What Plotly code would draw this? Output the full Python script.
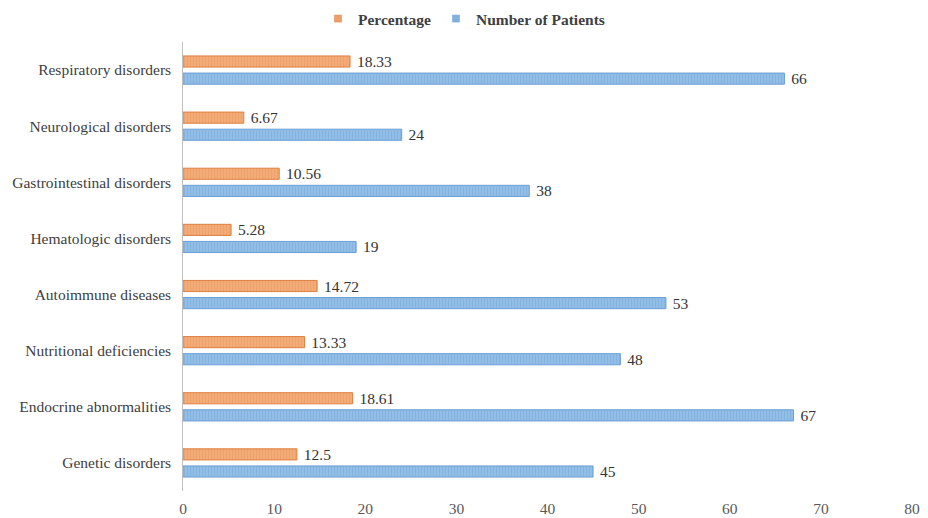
import plotly.graph_objects as go

categories = ["Genetic disorders", "Endocrine abnormalities", "Nutritional deficiencies",
              "Autoimmune diseases", "Hematologic disorders", "Gastrointestinal disorders",
              "Neurological disorders", "Respiratory disorders"]
percentage = [12.5, 18.61, 13.33, 14.72, 5.28, 10.56, 6.67, 18.33]
patients = [45, 67, 48, 53, 19, 38, 24, 66]
pct_labels = ["12.5", "18.61", "13.33", "14.72", "5.28", "10.56", "6.67", "18.33"]
x_ticks = [0, 10, 20, 30, 40, 50, 60, 70, 80]

FONT = "Liberation Serif, Times New Roman, serif"
BLUE_LINE = "#6A9FD6"
ORANGE_LINE = "#E07F40"

fig = go.Figure()
fig.add_trace(go.Bar(
    y=categories, x=patients, orientation="h", name="Number of Patients",
    text=[str(v) for v in patients], texttemplate=" %{text}", textposition="outside",
    cliponaxis=False, constraintext="none",
    textfont=dict(family=FONT, size=15.5, color="#333333"),
    marker=dict(color="#8DB9E4", line=dict(color=BLUE_LINE, width=1),
                pattern=dict(shape="|", fgcolor="#78A9DA", bgcolor="#92BDE6", size=3, solidity=0.3)),
    showlegend=False,
))
fig.add_trace(go.Bar(
    y=categories, x=percentage, orientation="h", name="Percentage",
    text=pct_labels, texttemplate=" %{text}", textposition="outside",
    cliponaxis=False, constraintext="none",
    textfont=dict(family=FONT, size=15.5, color="#333333"),
    marker=dict(color="#F2A974", line=dict(color=ORANGE_LINE, width=1),
                pattern=dict(shape="|", fgcolor="#E8955A", bgcolor="#F3AC78", size=3, solidity=0.3)),
    showlegend=False,
))
# legend entries with small square swatches
fig.add_trace(go.Scatter(x=[None], y=[None], mode="markers", name="Percentage",
                         marker=dict(symbol="square", size=7, color="#EE9E67",
                                     line=dict(color=ORANGE_LINE, width=0.5)),
                         legendrank=1))
fig.add_trace(go.Scatter(x=[None], y=[None], mode="markers", name="Number of Patients",
                         marker=dict(symbol="square", size=7, color="#82B0DE",
                                     line=dict(color=BLUE_LINE, width=0.5)),
                         legendrank=2))

fig.update_layout(
    width=928, height=518,
    margin=dict(l=183, r=16, t=42, b=27, autoexpand=False),
    barmode="group", bargap=0.39, bargroupgap=0.35,
    plot_bgcolor="white", paper_bgcolor="white",
    font=dict(family=FONT, size=15.5, color="#404040"),
    legend=dict(orientation="h", x=0.5, xanchor="center", xref="container",
                y=1 - 19 / 518, yanchor="middle", yref="container",
                font=dict(family=FONT, size=15.5, color="#404040", weight="bold"),
                itemwidth=30, tracegroupgap=0),
    showlegend=True,
)
fig.update_xaxes(range=[0, 80], tickvals=x_ticks, showgrid=False, zeroline=False,
                 showline=False, ticks="", ticklabelstandoff=6,
                 tickfont=dict(family=FONT, size=15.5, color="#595959"))
fig.update_yaxes(showgrid=False, showline=True, linecolor="#BFBFBF", linewidth=1,
                 ticks="", ticklen=0, tickfont=dict(family=FONT, size=15.5, color="#404040"),
                 ticksuffix="  ")

fig.write_html("out.html")
